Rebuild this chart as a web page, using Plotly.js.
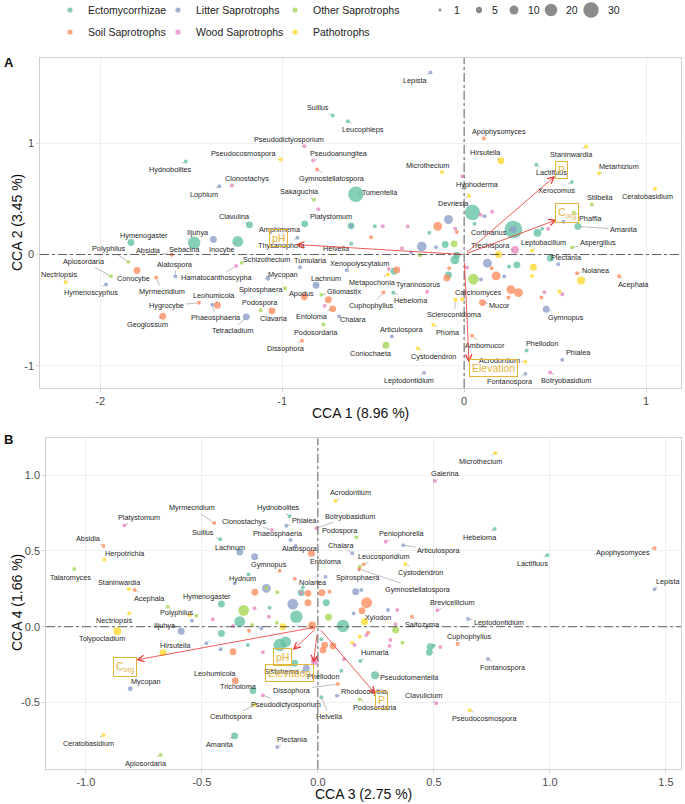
<!DOCTYPE html>
<html><head><meta charset="utf-8">
<script src="https://cdn.plot.ly/plotly-3.0.1.min.js"></script>
<style>html,body{margin:0;padding:0;background:#fff}#chart{width:685px;height:804px}</style>
</head><body><div id="chart"></div>
<script>
// ---------------- DATA ----------------
const guildCodes = ['E','L','O','S','W','P'];
const guildNames = ['Ectomycorrhizae','Litter Saprotrophs','Other Saprotrophs','Soil Saprotrophs','Wood Saprotrophs','Pathotrophs'];
const sizeLegendValues = [1,5,10,20,30];

// Panel A (CCA1 vs CCA2) – labelled genera
const genusA = ['Lepista','Suillus','Leucophleps','Pseudodictyosporium','Pseudocosmospora','Hydnobolites','Pseudoanungitea','Gymnostellatospora','Clonostachys','Lophium',
'Microthecium','Hyphoderma','Sakaguchia','Tomentella','Platystomum','Devriesia','Apophysomyces','Hirsutella','Staninwardia','Lactifluus',
'Metarhizium','Xerocomus','Stilbella','Ceratobasidium','Phaffia','Amanita','Cortinarius','Trechispora','Leptobacillum','Aspergillus',
'Plectania','Nolanea','Acephala','Carcinomyces','Scleroconidioma','Mucor','Gymnopus','Phoma','Ambomucor','Phellodon',
'Phialea','Acrodontium','Fontanospora','Botryobasidium','Tyrannosorus','Metapochonia','Xenopolyscytalum','Tumularia','Thysanophora','Helvella',
'Amphimema','Clavulina','Schizothecium','Mycopan','Spirosphaera','Lachnum','Apodus','Gliomastix','Cuphophyllus','Hebeloma',
'Podospora','Clavaria','Entoloma','Chalara','Podosordaria','Dissophora','Articulospora','Coniochaeta','Cystodendron','Leptodontidium',
'Hymenogaster','Iljuhya','Sebacina','Inocybe','Polyphilus','Absidia','Apiosordaria','Nectriopsis','Conocybe','Hymenoscyphus',
'Alatospora','Myrmecridium','Hamatocanthoscypha','Leohumicola','Hygrocybe','Phaeosphaeria','Tetracladium','Geoglossum'];
const guildA = ['L','E','E','W','P','E','W','S','W','L',
'P','W','O','E','W','P','S','P','P','E',
'P','E','O','P','O','E','E','W','P','O',
'L','S','S','P','P','S','L','P','S','E',
'L','P','L','W','W','P','L','L','L','E',
'E','E','O','L','O','L','S','O','S','E',
'O','S','S','L','O','S','L','O','P','L',
'E','L','E','E','O','S','O','P','S','L',
'L','S','W','S','S','L','L','S'];
const abundA = [2,2,2,2,2,2,2,2,2,2,
2,2,2,30,2,2,2,6,2,2,
2,2,2,2,2,6,40,8,2,2,
2,2,2,2,2,6,6,2,2,2,
2,2,2,2,2,2,2,2,2,2,
6,6,2,3,2,6,6,2,2,2,
2,6,6,2,2,2,2,6,2,2,
6,6,20,15,2,2,2,2,6,2,
2,2,2,6,2,2,6,6];
const cca1A = [-0.185,-0.722,-0.639,-0.878,-1.008,-1.530,-0.830,-0.808,-1.277,-1.345,
-0.121,-0.009,-0.825,-0.595,-0.801,0.027,0.108,0.202,0.671,0.397,
0.742,0.592,0.702,1.050,0.603,0.625,0.271,0.280,0.374,0.594,
0.517,0.621,0.852,-0.011,-0.048,0.101,0.451,-0.169,0.044,0.343,
0.539,0.337,0.337,0.473,-0.203,-0.419,-0.645,-0.902,-0.916,-0.620,
-0.876,-1.180,-1.222,-1.079,-0.984,-0.814,-0.878,-0.784,-0.444,-0.389,
-1.118,-1.056,-0.722,-0.687,-0.773,-0.891,-0.397,-0.429,-0.255,-0.220,
-1.831,-1.378,-1.484,-1.244,-1.846,-1.607,-1.941,-2.190,-1.798,-1.968,
-1.587,-1.692,-1.253,-1.356,-1.458,-1.384,-1.197,-1.656];
const cca2A = [1.637,1.250,1.199,0.974,0.854,0.836,0.845,0.764,0.620,0.614,
0.740,0.704,0.492,0.542,0.407,0.528,1.043,0.843,0.971,0.807,
0.731,0.652,0.450,0.591,0.375,0.252,0.225,0.042,0.036,0.063,
-0.087,-0.168,-0.195,-0.402,-0.407,-0.432,-0.492,-0.632,-0.731,-0.863,
-0.947,-0.965,-1.073,-1.061,-0.335,-0.180,-0.141,-0.114,0.150,0.096,
0.276,0.267,-0.075,-0.213,-0.303,-0.276,-0.380,-0.362,-0.342,-0.344,
-0.501,-0.506,-0.488,-0.558,-0.629,-0.776,-0.737,-0.816,-0.845,-1.064,
0.108,0.135,0.105,0.117,-0.066,-0.003,-0.195,-0.249,-0.144,-0.270,
-0.195,-0.207,-0.102,-0.456,-0.434,-0.452,-0.560,-0.555];

// Panel A – unlabelled genera
const bgGuildA = ['E','L','E','W','W','S','L','E','W','S',
'E','W','L','E','W','L','E','E','W','L',
'E','P','P','P','E','E','L','S','S','L',
'O','L','W','S','S','S','W','S','P','W',
'P','L','E','O','L','E','E','E','S','S',
'W','O','S','W','E','S','S','W','L'];
const bgAbundA = [6,2,2,2,2,10,10,2,2,2,
30,2,2,2,2,6,8,2,2,2,
6,8,6,2,6,2,10,2,10,2,
15,2,2,10,10,2,2,2,2,2,
6,12,6,6,2,10,6,6,6,2,
2,2,2,2,6,6,6,2,2];
const bgCca1A = [-0.621,-0.621,-0.491,-0.447,-0.310,-0.145,-0.086,-0.191,-0.049,-0.040,
0.046,0.090,0.112,0.057,0.154,0.271,0.403,0.429,0.462,0.546,
0.474,0.643,0.381,0.374,0.290,0.247,0.128,0.152,0.176,0.220,
0.051,0.093,0.016,0.257,0.299,0.244,0.441,0.425,0.524,0.540,
0.189,-0.233,-0.104,-0.055,-0.154,-0.051,-0.040,-0.086,-0.095,-0.082,
-0.342,-0.242,-0.511,-0.414,-0.385,-0.370,-0.746,-0.766,-0.291];
const bgCca2A = [0.258,0.258,0.254,0.254,0.252,0.254,0.315,0.195,0.231,0.202,
0.378,0.357,0.344,0.276,0.384,0.225,0.195,0.231,0.231,0.294,
-0.033,-0.234,-0.114,-0.192,-0.093,-0.108,-0.078,-0.123,-0.192,-0.198,
-0.222,-0.225,-0.117,-0.315,-0.342,-0.387,-0.339,-0.387,-0.333,-0.357,
0.000,0.072,0.090,0.096,0.066,-0.048,-0.006,-0.183,-0.210,-0.123,
0.057,-0.006,0.156,-0.129,-0.150,-0.138,-0.407,-0.461,0.018];

// Panel B (CCA3 vs CCA4) – labelled genera
const genusB = ['Myrmecridium','Platystomum','Hydnobolites','Clonostachys','Phialea','Phaeosphaeria','Absidia','Suillus','Lachnum','Alatospora',
'Herpotrichia','Talaromyces','Gymnopus','Hydnum','Staninwardia','Acephala','Hymenogaster','Polyphilus','Nectriopsis','Iljuhya',
'Tolypocladium','Hirsutella','Mycopan','Leohumicola','Tricholoma','Pseudodictyosporium','Ceuthospora','Dissophora','Helvella','Ceratobasidium',
'Amanita','Plectania','Apiosordaria','Sistotrema','Phellodon','Acrodontium','Botryobasidium','Podospora','Peniophorella','Chalara',
'Articulospora','Leucosporidium','Cystodendron','Spirosphaera','Gymnostellatospora','Brevicellicium','Galerina','Entoloma','Nolanea','Microthecium',
'Hebeloma','Lactifluus','Apophysomyces','Lepista','Xylodon','Saitozyma','Leptodontidium','Cuphophyllus','Humaria','Fontanospora',
'Pseudotomentella','Rhodocollybia','Clavulicium','Podosordaria','Pseudocosmospora'];
const guildB = ['S','W','E','W','L','L','S','E','L','L',
'P','O','L','L','P','S','E','O','P','L',
'P','P','L','S','E','W','P','S','E','P',
'E','L','O','E','E','P','W','O','W','L',
'L','S','P','O','S','W','W','S','S','P',
'E','E','S','L','P','S','L','S','E','L',
'E','L','W','O','P'];
const abundB = [2,2,2,2,2,2,2,2,6,2,
2,2,6,2,2,2,6,2,2,6,
8,6,3,6,6,2,2,2,2,2,
6,2,2,6,2,2,2,2,2,2,
2,2,2,2,2,2,2,6,2,2,
2,2,2,2,6,2,2,2,2,2,
8,2,2,2,2];
const cca3B = [-0.447,-0.834,-0.122,-0.198,-0.136,-0.118,-0.924,-0.421,-0.337,-0.096,
-0.921,-1.050,-0.273,-0.359,-0.815,-0.790,-0.416,-0.647,-0.813,-0.589,
-0.865,-0.668,-0.809,-0.356,-0.280,-0.237,-0.273,0.086,0.015,-0.924,
-0.359,-0.175,-0.678,-0.100,0.101,0.076,-0.007,0.166,0.292,0.148,
0.368,0.197,0.377,0.180,0.178,0.515,0.504,-0.028,-0.100,0.765,
0.762,0.989,1.451,1.451,0.201,0.405,0.647,0.602,0.183,0.733,
0.246,0.082,0.510,0.180,0.654];
const cca4B = [0.684,0.668,0.728,0.637,0.666,0.572,0.532,0.576,0.492,0.532,
0.442,0.380,0.461,0.286,0.247,0.242,0.150,0.132,0.088,-0.030,
-0.030,-0.171,-0.409,-0.356,-0.422,-0.452,-0.516,-0.378,-0.465,-0.714,
-0.720,-0.793,-0.846,-0.241,-0.290,0.829,0.649,0.589,0.560,0.484,
0.537,0.411,0.413,0.396,0.380,0.108,0.960,0.484,0.316,1.143,
0.644,0.471,0.517,0.247,0.033,0.066,0.051,-0.114,-0.226,-0.213,
-0.320,-0.455,-0.505,-0.479,-0.550];

// Panel B – unlabelled genera
const bgGuildB = ['L','O','S','O','L','O','W','E','E','E',
'P','O','L','W','E','O','S','L','W','P',
'W','O','S','E','S','L','L','S','E','W',
'E','E','L','L','W','E','E','W','S','S',
'S','L','L','S','S','L','L','W','O','L',
'E','O','W','P','S','W','P','W','W','W',
'O','E','E','E','W','W','S','S','E','S',
'S','E'];
const bgAbundB = [10,2,6,2,15,15,2,2,20,15,
2,2,2,2,6,2,2,2,2,6,
2,2,6,6,8,2,2,6,2,2,
20,15,6,2,8,2,6,2,6,6,
2,6,2,15,6,2,2,2,6,2,
20,6,2,2,2,2,2,2,2,2,
2,6,6,2,2,2,6,6,2,6,
2,2];
const bgCca3B = [-0.222,-0.222,-0.272,-0.175,-0.108,-0.320,-0.273,-0.208,-0.093,-0.337,
-0.553,-0.524,-0.543,-0.453,-0.416,-0.283,-0.297,-0.244,-0.366,-0.151,
-0.211,-0.177,-0.043,0.036,-0.025,-0.481,-0.419,-0.366,-0.302,-0.237,
-0.165,-0.139,-0.050,-0.065,-0.013,-0.065,-0.072,-0.072,-0.043,0.017,
0.050,0.163,0.187,0.210,0.190,0.154,0.302,0.342,0.046,0.033,
0.108,0.335,0.335,0.180,0.216,0.209,0.148,0.158,0.309,0.312,
0.364,0.484,0.480,0.499,0.528,0.112,0.029,0.065,0.015,0.022,
-0.165,-0.299];
const bgCca4B = [0.253,0.253,0.227,0.227,0.148,0.108,0.121,0.125,0.066,0.033,
0.075,0.073,0.040,0.049,-0.044,0.011,-0.026,-0.011,0.005,0.000,
0.066,0.026,0.158,0.158,0.008,-0.109,-0.149,-0.165,-0.121,-0.169,
-0.121,-0.101,-0.274,-0.297,-0.226,0.260,0.224,0.224,0.220,0.224,
0.231,0.231,0.242,0.158,0.105,0.088,0.110,0.110,0.062,0.330,
0.005,-0.022,0.016,-0.066,-0.040,-0.055,-0.105,-0.121,-0.127,-0.088,
-0.105,-0.132,-0.169,-0.125,-0.134,-0.215,-0.121,-0.127,-0.083,-0.154,
0.369,0.345];

// Environmental vectors
const envVars = ['pH','P','C<sub>org</sub>','Elevation'];
const envCca1 = [-0.923,0.500,0.509,0.027];
const envCca2 = [0.090,0.705,0.313,-0.970];
const envLabCca1 = [-1.019,0.533,0.566,0.161];
const envLabCca2 = [0.150,0.758,0.375,-1.022];
const envCca3 = [-0.108,0.249,-0.783,-0.019];
const envCca4 = [-0.153,-0.445,-0.219,-0.240];
const envLabCca3 = [-0.153,0.273,-0.830,-0.122];
const envLabCca4 = [-0.198,-0.483,-0.264,-0.303];

// ---------------- LABEL OFFSETS (pixels, text centre relative to point) ----------------
const labelDxA = [-15,-15,15,-15,-37,-15,26,15,15,-15,
-15,15,-15,24,13,-16,15,-15,-15,15,
20,-15,8,-8,17,46,-24,-25,11,26,
8,19,14,16,-1,17,20,15,13,15,
16,-26,-15,16,-9,-15,13,10,-15,-15,
-25,-15,25,15,-24,10,-3,23,-12,18,
-1,2,-21,14,-7,-16,10,-15,16,-15,
13,-15,-10,-16,-19,-23,-27,-7,-3,-15,
0,6,-19,-3,-32,4,-14,-15];
const labelDyA = [8,-8,8,-7,-6,8,-7,9,-7,8,
-7,8,-8,-2,7,8,-7,-8,8,8,
-7,8,-7,8,6,3,3,-4,-8,-5,
-7,-3,8,-7,15,3,8,8,10,-7,
-7,-1,8,8,-7,8,-7,-7,8,5,
6,-8,-3,-4,1,-7,-3,-3,13,8,
-8,8,8,3,8,8,-7,8,8,8,
-7,-7,7,8,-13,-4,-15,-8,8,8,
-12,14,12,-10,3,13,14,8];
const labelDxB = [-22,15,-11,-28,18,-13,-15,-17,-10,4,
21,-4,14,8,-9,15,-14,9,-15,-16,
-15,13,16,-20,-14,23,-23,-46,8,-15,
-15,15,-15,-13,-18,15,34,-16,16,-11,
36,20,15,-2,59,15,11,15,18,-15,
-15,-15,-32,13,13,11,31,12,15,15,
35,28,-13,15,15];
const labelDyB = [-15,-8,-9,-9,-5,-6,-8,-7,-5,2,
-6,8,8,-5,-7,8,-7,6,7,-6,
7,-7,-7,-7,-4,9,12,6,19,8,
9,-8,8,8,6,-8,-12,-7,-8,-8,
5,-8,8,11,20,-8,-8,8,4,8,
8,8,4,-8,-4,8,4,-8,-8,8,
2,-4,-8,8,8];

// ---------------- STYLE ----------------
const W = 685, H = 804;
const FONT = 'Liberation Sans, Arial, Helvetica, sans-serif';
const colorOf = {E:'#66C2A5', L:'#8DA0CB', O:'#A6D854', S:'#FC8D62', W:'#E78AC3', P:'#FFD92F'};
const ENV_COLOR = '#E5B43C';
const ARROW_COLOR = '#E8342C';
const LABEL_FS = 7.3;
function diam(v){ return 2.8*Math.sqrt(v); }

function pointsTrace(g1,a1,x1,y1,g2,a2,x2,y2,xa,ya){
  const pts = [];
  g1.forEach((g,i)=>pts.push({g:g,a:a1[i],x:x1[i],y:y1[i]}));
  g2.forEach((g,i)=>pts.push({g:g,a:a2[i],x:x2[i],y:y2[i]}));
  pts.sort((p,q)=>q.a-p.a);
  return {
    type:'scatter', mode:'markers', xaxis:xa, yaxis:ya,
    x:pts.map(p=>p.x), y:pts.map(p=>p.y),
    marker:{color:pts.map(p=>colorOf[p.g]), size:pts.map(p=>diam(p.a)), opacity:0.8, line:{width:0}},
    hoverinfo:'skip', showlegend:false, cliponaxis:false
  };
}

function labelAnns(names,xs,ys,dx,dy,xref,yref){
  return names.map((n,i)=>{
    const w = n.length*LABEL_FS*0.5, h = LABEL_FS*1.3;
    const inside = Math.abs(dx[i]) < w/2+2 && Math.abs(dy[i]) < h/2+2;
    const base = {xref:xref, yref:yref, x:xs[i], y:ys[i], text:n,
      font:{size:LABEL_FS, color:'#1f1f1f', family:FONT}};
    if(inside){
      return Object.assign(base,{showarrow:false, xshift:dx[i], yshift:-dy[i]});
    }
    return Object.assign(base,{showarrow:true, ax:dx[i], ay:dy[i], arrowhead:0,
      arrowwidth:0.5, arrowcolor:'#777', standoff:2});
  });
}

function envAnns(vx,vy,lx,ly,xref,yref){
  const out = [];
  vx.forEach((v,i)=>{
    out.push({xref:xref, yref:yref, axref:xref, ayref:yref, x:vx[i], y:vy[i], ax:0, ay:0,
      text:' ', showarrow:true, arrowhead:5, arrowsize:1.6, arrowwidth:0.8, arrowcolor:ARROW_COLOR});
  });
  envVars.forEach((t,i)=>{
    out.push({xref:xref, yref:yref, x:lx[i], y:ly[i], text:t, showarrow:false,
      font:{size:10.5, color:ENV_COLOR, family:FONT}, bordercolor:ENV_COLOR, borderwidth:1, borderpad:2});
  });
  return out;
}

function zeroShapes(xr,yr){
  const ln = {color:'#3a3a3a', width:0.8, dash:'dashdot'};
  return [
    {type:'line', xref:xr, yref:yr+' domain', x0:0, x1:0, y0:0, y1:1, line:ln, layer:'above'},
    {type:'line', xref:xr+' domain', yref:yr, x0:0, x1:1, y0:0, y1:0, line:ln, layer:'above'}
  ];
}

const traces = [
  pointsTrace(guildA,abundA,cca1A,cca2A,bgGuildA,bgAbundA,bgCca1A,bgCca2A,'x','y'),
  pointsTrace(guildB,abundB,cca3B,cca4B,bgGuildB,bgAbundB,bgCca3B,bgCca4B,'x2','y2')
];

// axes
const axBase = {showgrid:true, gridcolor:'#EBEBEB', gridwidth:0.8, zeroline:false,
  showline:true, mirror:true, linecolor:'#C4C4C4', linewidth:0.8,
  ticks:'outside', ticklen:3, tickwidth:0.8, tickcolor:'#C4C4C4',
  tickfont:{size:11, color:'#4D4D4D', family:FONT}, fixedrange:true};
const xA = Object.assign({}, axBase, {domain:[40/W, 681/W], range:[-2.331,1.192], anchor:'y',
  tickvals:[-2,-1,0,1], ticktext:['-2','-1','0','1']});
const yA = Object.assign({}, axBase, {domain:[1-388/H, 1-58/H], range:[-1.2,1.767], anchor:'x',
  tickvals:[-1,0,1], ticktext:['-1','0','1']});
const xB = Object.assign({}, axBase, {domain:[46/W, 681/W], range:[-1.172,1.565], anchor:'y2',
  tickvals:[-1,-0.5,0,0.5,1,1.5], ticktext:['-1.0','-0.5','0.0','0.5','1.0','1.5']});
const yB = Object.assign({}, axBase, {domain:[1-769/H, 1-438.3/H], range:[-0.938,1.242], anchor:'x2',
  tickvals:[-0.5,0,0.5,1], ticktext:['-0.5','0.0','0.5','1.0']});

// annotations
let anns = [];
anns = anns.concat(labelAnns(genusA,cca1A,cca2A,labelDxA,labelDyA,'x','y'));
anns = anns.concat(labelAnns(genusB,cca3B,cca4B,labelDxB,labelDyB,'x2','y2'));
anns = anns.concat(envAnns(envCca1,envCca2,envLabCca1,envLabCca2,'x','y'));
anns = anns.concat(envAnns(envCca3,envCca4,envLabCca3,envLabCca4,'x2','y2'));

function paperText(t,px,py,opts){
  return Object.assign({xref:'paper', yref:'paper', x:px/W, y:1-py/H, text:t, showarrow:false,
    font:{size:10.5, color:'#222', family:FONT}, xanchor:'left', yanchor:'middle'}, opts||{});
}
// axis titles and panel tags
anns.push(paperText('CCA 1 (8.96 %)',360.5,413,{xanchor:'center', font:{size:14,color:'#111',family:FONT}}));
anns.push(paperText('CCA 2 (3.45 %)',17,223,{xanchor:'center', textangle:-90, font:{size:14,color:'#111',family:FONT}}));
anns.push(paperText('CCA 3 (2.75 %)',363.5,794,{xanchor:'center', font:{size:14,color:'#111',family:FONT}}));
anns.push(paperText('CCA 4 (1.66 %)',17,603,{xanchor:'center', textangle:-90, font:{size:14,color:'#111',family:FONT}}));
anns.push(paperText('<b>A</b>',2,62,{font:{size:13,color:'#111',family:FONT}}));
anns.push(paperText('<b>B</b>',2,440,{font:{size:13,color:'#111',family:FONT}}));

// legend (built from guild names and size values)
let shapes = zeroShapes('x','y').concat(zeroShapes('x2','y2'));
function paperCircle(cx,cy,r,col){
  return {type:'circle', xref:'paper', yref:'paper',
    x0:(cx-r)/W, x1:(cx+r)/W, y0:1-(cy+r)/H, y1:1-(cy-r)/H,
    fillcolor:col, opacity:0.8, line:{width:0}, layer:'above'};
}
const legDotX = [70,178,295], legTextX = [86,194,311], legRowY = [10,32];
guildCodes.forEach((c,i)=>{
  const col = i%3, row = Math.floor(i/3);
  shapes.push(paperCircle(legDotX[col], legRowY[row], 2.6, colorOf[c]));
  anns.push(paperText(guildNames[i], legTextX[col], legRowY[row]));
});
const sizeDotX = [440,479,514,551,591], sizeTextX = [452,490,526,564,606];
sizeLegendValues.forEach((v,i)=>{
  shapes.push(paperCircle(sizeDotX[i], legRowY[0], diam(v)/2, '#6E6E6E'));
  anns.push(paperText(String(v), sizeTextX[i], legRowY[0]));
});

const layout = {
  width:W, height:H, margin:{l:0,r:0,t:0,b:0}, paper_bgcolor:'#fff', plot_bgcolor:'#fff',
  font:{family:FONT}, showlegend:false,
  xaxis:xA, yaxis:yA, xaxis2:xB, yaxis2:yB,
  annotations:anns, shapes:shapes
};
Plotly.newPlot('chart', traces, layout, {displayModeBar:false, staticPlot:true});
</script></body></html>
